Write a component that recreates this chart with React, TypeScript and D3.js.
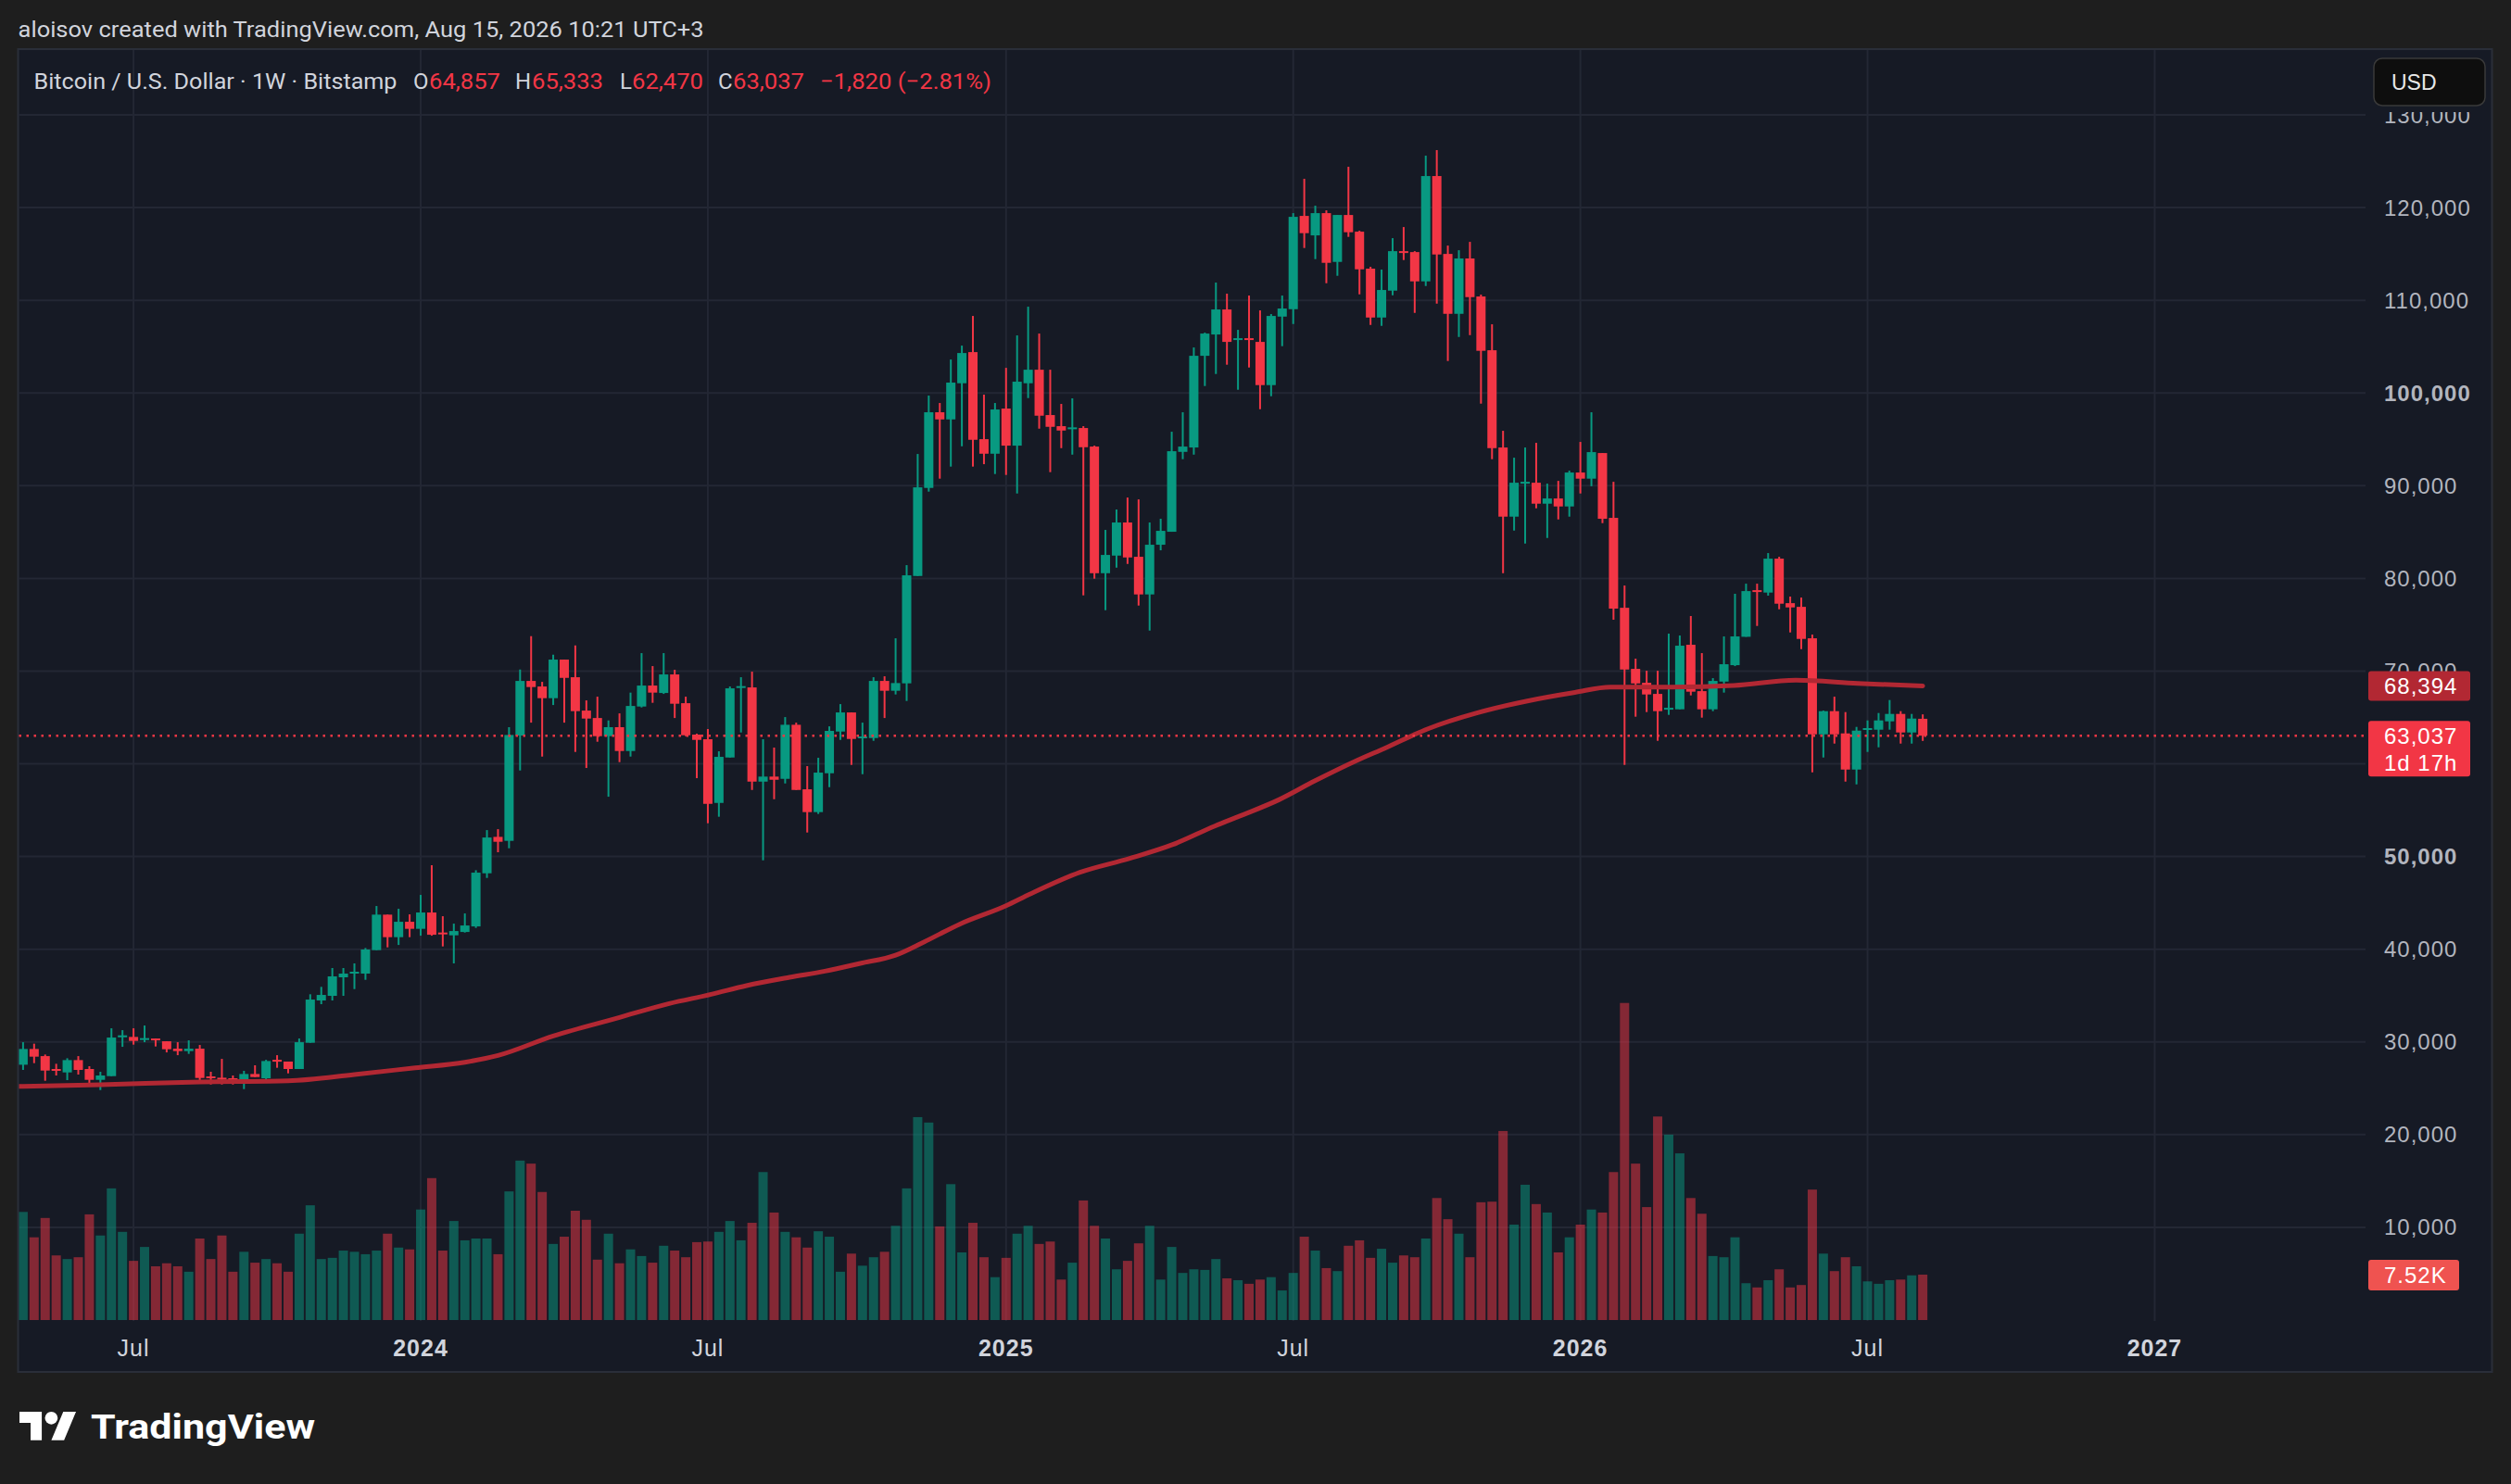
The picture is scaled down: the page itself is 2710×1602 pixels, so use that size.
import * as d3 from "d3";

// Bitstamp BTC/USD weekly bars, first bar = week of Mon 24 Apr 2023
const FIRST_BAR = Date.UTC(2023, 3, 24);
const WEEK_MS = 7 * 24 * 3600 * 1000;

const OPEN = [
  27540, 29240, 28470, 27080, 26710, 28040, 27080, 25910, 26310, 30500,
  30540, 30210, 30370, 30070, 29270, 29010, 29270, 26280, 26140, 26080,
  25810, 26540, 26080, 28070, 27880, 27080, 29910, 34470, 34970, 36970,
  37400, 37370, 39900, 43730, 41300, 42960, 42200, 43960, 41800, 41500,
  41860, 42460, 48190, 52120, 51690, 63050, 68940, 68340, 67080, 71240,
  69340, 65740, 64940, 62980, 63950, 61380, 66180, 68440, 67640, 69640,
  66540, 63150, 62650, 55780, 60680, 68210, 68240, 58080, 58620, 58380,
  64210, 57250, 54790, 58980, 63480, 65540, 62780, 62780, 68940, 67880,
  68680, 80260, 89760, 97920, 97150, 101050, 104410, 95020, 93450, 98320,
  94320, 101050, 102510, 97620, 96420, 96150, 96220, 94220, 80560, 82460,
  86030, 82330, 78270, 83630, 85030, 93650, 94120, 104010, 106310, 109010,
  105780, 105910, 105510, 100850, 108240, 109040, 119100, 117000, 119400, 114140,
  119200, 117400, 113410, 108140, 111040, 115300, 115200, 112040, 123400, 115000,
  108540, 114510, 110410, 104610, 94120, 86660, 90290, 90320, 88060, 88620,
  87760, 91420, 90760, 93520, 86530, 76830, 70240, 68740, 67540, 65880,
  65880, 72840, 67840, 65880, 68870, 70640, 73700, 78730, 78470, 82130,
  77330, 76930, 73540, 63180, 65680, 63280, 59380, 63710, 63680, 64580,
  65380, 63380, 64857,
];
const HIGH = [
  29970, 29810, 28640, 27640, 28240, 28470, 27380, 26780, 31470, 31270,
  31470, 31770, 30370, 30070, 29970, 30170, 29670, 26780, 28170, 26380,
  26880, 27480, 28070, 28570, 27880, 30370, 35140, 35940, 37970, 37970,
  38470, 40130, 44660, 43730, 44360, 43760, 45860, 49060, 43560, 42760,
  43860, 48520, 52850, 52950, 63950, 70170, 73770, 68840, 71770, 71240,
  72770, 66840, 67240, 64680, 65440, 67680, 71940, 70540, 71940, 70140,
  67240, 63250, 63750, 61350, 68340, 69340, 69940, 62650, 61750, 65040,
  64440, 59750, 60650, 64040, 66440, 65540, 64440, 69340, 69440, 73540,
  81430, 93420, 99720, 98920, 103610, 105110, 108310, 99820, 98920, 102710,
  106210, 109310, 106410, 102510, 98820, 99420, 96420, 94320, 85230, 87430,
  88720, 88520, 86030, 86430, 95820, 97920, 104910, 106510, 111910, 110710,
  106810, 110510, 108910, 108510, 110510, 119400, 123100, 120200, 119700, 119200,
  124400, 117500, 113610, 113310, 116700, 117900, 115300, 125600, 126200, 115900,
  115400, 116300, 110610, 107410, 95920, 93020, 94120, 94620, 90220, 90520,
  91620, 94720, 97920, 93520, 90420, 79230, 71340, 70040, 70040, 74040,
  73840, 75940, 71940, 69240, 73740, 78340, 79430, 79430, 82730, 82330,
  78040, 77930, 73940, 65740, 67240, 65580, 63980, 64680, 65480, 66880,
  65680, 65380, 65333,
];
const LOW = [
  26980, 27710, 25810, 26380, 25880, 26480, 25380, 24810, 26310, 29470,
  29710, 29970, 29510, 28870, 28570, 28710, 25610, 25410, 25410, 25410,
  24910, 26210, 25980, 27210, 26610, 27080, 29910, 34070, 34470, 34970,
  35700, 36700, 39900, 40200, 40460, 41300, 41460, 41460, 40300, 38470,
  41800, 42300, 47690, 50460, 50890, 59280, 64440, 60780, 66340, 64440,
  61280, 59550, 62380, 56450, 60180, 60780, 66080, 66580, 67540, 64940,
  62980, 58450, 53590, 54290, 60680, 63380, 57180, 49590, 56180, 57880,
  57180, 52590, 54590, 57480, 62580, 59880, 58880, 62480, 64940, 67480,
  66780, 80260, 89360, 90760, 92060, 94250, 92060, 92320, 91260, 91160,
  89160, 99450, 96150, 91460, 94050, 93350, 78170, 79970, 76570, 81160,
  81560, 77070, 74370, 83030, 85030, 92860, 93350, 100750, 102050, 103050,
  100350, 102750, 98250, 99650, 105050, 107440, 115640, 114440, 111840, 112640,
  116840, 110640, 107340, 107240, 110540, 114340, 108640, 111540, 109640, 103450,
  106040, 106240, 98850, 92860, 80560, 85160, 83760, 87560, 84360, 86360,
  86660, 89160, 89940, 85960, 75540, 59880, 65080, 65580, 62480, 65280,
  65880, 67380, 64980, 65680, 67680, 70540, 73700, 74870, 78140, 76670,
  74170, 72370, 59080, 60680, 62180, 58080, 57780, 61280, 61780, 63680,
  62180, 62180, 62470,
];
const CLOSE = [
  29240, 28410, 26910, 26940, 28040, 26980, 25910, 26380, 30470, 30710,
  30110, 30410, 30210, 29210, 29010, 29270, 26110, 26080, 25980, 25880,
  26540, 26210, 27940, 27940, 27080, 29970, 34570, 35070, 37070, 37370,
  37570, 39970, 43730, 41300, 42960, 42200, 43960, 41560, 41630, 41960,
  42560, 48260, 52050, 51590, 63110, 68940, 68280, 67080, 71240, 69270,
  65680, 64880, 62980, 63950, 61380, 66240, 68440, 67680, 69640, 66480,
  63080, 62580, 55680, 60750, 68140, 68380, 58080, 58620, 58280, 64210,
  57180, 54790, 59050, 63550, 65540, 62680, 62950, 68940, 67880, 68710,
  80330, 89820, 97920, 97150, 101120, 104310, 94950, 93450, 98220, 94320,
  101220, 102510, 97550, 96350, 95950, 96290, 94150, 80560, 82530, 86030,
  82260, 78270, 83630, 85130, 93720, 94220, 104010, 106410, 109010, 105510,
  105910, 105780, 100850, 108310, 109110, 119000, 117240, 119400, 114040, 119200,
  117340, 113340, 108140, 111110, 115300, 115140, 112040, 123400, 114940, 108540,
  114510, 110340, 104550, 94050, 86660, 90320, 90420, 88060, 88620, 87760,
  91420, 90760, 93620, 86430, 76740, 70170, 68670, 67480, 65680, 66040,
  72740, 67780, 65880, 68940, 70740, 73740, 78630, 78570, 82130, 77270,
  76870, 73470, 63180, 65680, 63180, 59380, 63580, 63850, 64680, 65380,
  63380, 64880, 63037,
];
// thousands of BTC
const VOLUME = [
  17.9, 13.7, 16.9, 10.7, 10.1, 10.4, 17.5, 14.0, 21.8, 14.6,
  9.8, 12.1, 8.9, 9.4, 8.9, 8.0, 13.5, 10.1, 14.0, 8.0,
  11.3, 9.5, 10.1, 9.4, 8.0, 14.3, 19.0, 10.1, 10.3, 11.5,
  11.3, 10.9, 11.5, 14.3, 12.0, 11.7, 18.3, 23.5, 11.5, 16.4,
  13.2, 13.5, 13.5, 10.9, 21.3, 26.4, 25.9, 21.2, 12.6, 13.8,
  18.1, 16.6, 10.0, 14.3, 9.4, 11.7, 10.6, 9.5, 12.3, 11.5,
  10.4, 12.9, 13.0, 14.6, 16.4, 13.2, 16.1, 24.5, 17.8, 14.6,
  13.7, 12.0, 14.7, 13.8, 8.0, 11.0, 9.0, 10.4, 11.3, 15.6,
  21.8, 33.6, 32.7, 15.5, 22.5, 11.2, 16.1, 10.4, 7.1, 10.3,
  14.3, 15.6, 12.6, 13.0, 6.7, 9.5, 19.8, 15.6, 13.5, 8.4,
  9.8, 12.7, 15.6, 6.7, 12.1, 7.8, 8.4, 8.3, 10.1, 6.9,
  6.6, 6.0, 6.7, 7.1, 4.9, 7.8, 13.8, 11.5, 8.6, 8.1,
  12.3, 13.2, 10.3, 11.8, 9.5, 10.7, 10.4, 13.5, 20.2, 16.7,
  14.3, 10.4, 19.5, 19.6, 31.3, 15.8, 22.4, 19.2, 17.8, 11.2,
  13.7, 15.8, 18.3, 17.8, 24.5, 52.5, 25.9, 18.7, 33.7, 30.7,
  27.6, 20.2, 17.6, 10.6, 10.4, 13.7, 6.1, 5.4, 6.6, 8.4,
  5.4, 5.8, 21.6, 11.0, 8.1, 10.4, 8.9, 6.4, 6.0, 6.6,
  6.7, 7.4, 7.52,
];

// moving average at these bar positions
const MA_BAR = [
  -1, 0, 7, 16, 24, 30, 35.5, 40, 43, 48, 54, 58.5, 62.3, 65.5, 69.4, 72.6, 75.8,
  79, 81.6, 84.8, 89, 91.2, 95.7, 100.2, 104.1, 107.9, 110.5, 113.7, 116.9,
  120.8, 123.3, 127.2, 131.7, 136.2, 140.5, 143.7, 149.3, 154.9, 160.5, 166.1, 172,
];
const MA_VALUE = [
  25190, 25210, 25380, 25680, 25810, 26480, 27210, 27810, 28540, 30640, 32640, 34140,
  35130, 36070, 36970, 37630, 38470, 39360, 40800, 42700, 44690, 45960, 48290,
  49790, 51290, 53290, 54520, 56120, 58120, 60380, 61680, 63780, 65510, 66780,
  67700, 68270, 68270, 68440, 69010, 68670, 68394,
];

const PRICE_TICKS = [10000, 20000, 30000, 40000, 50000, 60000, 70000, 80000, 90000, 100000, 110000, 120000, 130000];
const BOLD_PRICE = [50000, 100000];
const TIME_TICKS = [
  { date: Date.UTC(2023, 6, 3), label: "Jul", bold: false },
  { date: Date.UTC(2024, 0, 1), label: "2024", bold: true },
  { date: Date.UTC(2024, 6, 1), label: "Jul", bold: false },
  { date: Date.UTC(2025, 0, 6), label: "2025", bold: true },
  { date: Date.UTC(2025, 6, 7), label: "Jul", bold: false },
  { date: Date.UTC(2026, 0, 5), label: "2026", bold: true },
  { date: Date.UTC(2026, 6, 6), label: "Jul", bold: false },
  { date: Date.UTC(2027, 0, 4), label: "2027", bold: true },
];

const W = 2710, H = 1602;
const UP = "#089981", DOWN = "#f23645";
const GRID = "#232734";
const FONT = "Roboto, 'Noto Sans', sans-serif";
const AXIS_FONT = "'Liberation Sans', Arial, sans-serif";

const fmt = d3.format(",");

export default function App() {
  const nBars = CLOSE.length;
  const barDate = (i: number) => new Date(FIRST_BAR + i * WEEK_MS);

  const x = d3.scaleUtc().domain([barDate(0), barDate(nBars - 1)]).range([24.9, 24.9 + (nBars - 1) * 11.92]);
  const y = d3.scaleLinear().domain([0, 130000]).range([1425, 124]);
  const yv = d3.scaleLinear().domain([0, 55]).range([1425, 1066.4]);

  const plotL = 20.5, plotR = 2553, axisX = 2573;
  const bw = 10;

  const maLine = d3.line<number>()
    .x((_, k) => x(new Date(FIRST_BAR + MA_BAR[k] * WEEK_MS)))
    .y(v => y(v))
    .curve(d3.curveMonotoneX)(MA_VALUE) ?? "";

  const last = nBars - 1;
  const lastClose = CLOSE[last];
  const change = lastClose - OPEN[last];
  const maLast = MA_VALUE[MA_VALUE.length - 1];
  const legendVals = [
    { k: "O", v: OPEN[last], kx: 446, vx: 463 },
    { k: "H", v: HIGH[last], kx: 556, vx: 574 },
    { k: "L", v: LOW[last], kx: 669, vx: 682 },
    { k: "C", v: lastClose, kx: 775, vx: 791 },
  ];

  return (
    <div style={{ position: "absolute", left: 0, top: 0, width: W, height: H }}>
      <svg width={W} height={H} style={{ display: "block" }}>
        <defs>
          <clipPath id="plot"><rect x={plotL} y={54} width={2535} height={1372} /></clipPath>
          <clipPath id="paxis"><rect x={2554} y={121} width={135} height={1300} /></clipPath>
        </defs>
        <rect width={W} height={H} fill="#1e1e1e" />
        <text x={19.6} y={40} fill="#d1d4dc" fontFamily={FONT} fontSize={24} textLength={740} lengthAdjust="spacingAndGlyphs">
          aloisov created with TradingView.com, Aug 15, 2026 10:21 UTC+3
        </text>

        {/* chart panel */}
        <rect x={19.5} y={53} width={2670} height={1428} fill="#161a25" stroke="#2a2e39" strokeWidth={2} />

        {/* grid */}
        {PRICE_TICKS.map(v => (
          <line key={"h" + v} x1={plotL} x2={plotR} y1={y(v)} y2={y(v)} stroke={GRID} strokeWidth={2} />
        ))}
        {TIME_TICKS.map(t => (
          <line key={"v" + t.date} x1={x(new Date(t.date))} x2={x(new Date(t.date))} y1={54} y2={1426} stroke={GRID} strokeWidth={2} />
        ))}

        <g clipPath="url(#plot)">
          {/* volume */}
          {VOLUME.map((v, i) => (
            <rect key={"vol" + i} x={x(barDate(i)) - bw / 2} y={yv(v)} width={bw} height={yv(0) - yv(v)}
              fill={CLOSE[i] >= OPEN[i] ? UP : DOWN} fillOpacity={0.5} />
          ))}

          {/* candles */}
          {CLOSE.map((c, i) => {
            const o = OPEN[i];
            const cx = x(barDate(i));
            const col = c >= o ? UP : DOWN;
            const top = y(Math.max(o, c));
            const h = Math.max(2, Math.abs(y(o) - y(c)));
            return (
              <g key={"c" + i} fill={col}>
                <rect x={cx - 1} y={y(HIGH[i])} width={2} height={y(LOW[i]) - y(HIGH[i])} />
                <rect x={cx - bw / 2} y={top} width={bw} height={h} />
              </g>
            );
          })}

          {/* moving average */}
          <path d={maLine} fill="none" stroke="#b22833" strokeWidth={5} strokeLinecap="round" />
        </g>

        {/* last price line */}
        <line x1={plotL} x2={2556} y1={y(lastClose)} y2={y(lastClose)} stroke={DOWN} strokeWidth={2.5} strokeDasharray="2.5 5.5" />

        {/* header legend */}
        <g fontFamily={FONT} fontSize={24} dominantBaseline="central">
          <text x={36.5} y={88} fill="#d1d4dc" textLength={392} lengthAdjust="spacingAndGlyphs">Bitcoin / U.S. Dollar · 1W · Bitstamp</text>
          {legendVals.map(d => (
            <g key={d.k}>
              <text x={d.kx} y={88} fill="#d1d4dc">{d.k}</text>
              <text x={d.vx} y={88} fill={DOWN} textLength={77} lengthAdjust="spacingAndGlyphs">{fmt(d.v)}</text>
            </g>
          ))}
          <text x={885} y={88} fill={DOWN} textLength={185} lengthAdjust="spacingAndGlyphs">
            {"\u2212" + fmt(Math.abs(change)) + " (\u2212" + (Math.abs(change) / OPEN[last] * 100).toFixed(2) + "%)"}
          </text>
        </g>

        {/* price axis */}
        <g fontFamily={AXIS_FONT} fontSize={24} fill="#b2b5be" dominantBaseline="central" clipPath="url(#paxis)">
          {PRICE_TICKS.map(v => (
            <text key={"pt" + v} x={axisX} y={y(v)} fontWeight={BOLD_PRICE.includes(v) ? 700 : 400} letterSpacing={1}>
              {fmt(v)}
            </text>
          ))}
        </g>

        {/* USD button */}
        <rect x={2562} y={63} width={120} height={51} rx={9} fill="#0e0e0e" stroke="#3a3a3a" strokeWidth={1.5} />
        <text x={2581} y={89} fill="#e8e8e8" fontFamily={AXIS_FONT} fontSize={23} dominantBaseline="central">USD</text>

        {/* axis value labels */}
        <g fontFamily={AXIS_FONT} fontSize={24} fill="#ffffff" dominantBaseline="central" letterSpacing={1}>
          <rect x={2556} y={y(maLast) - 16} width={110} height={32} rx={3} fill="#b22833" />
          <text x={axisX} y={y(maLast)}>{fmt(maLast)}</text>
          <rect x={2556} y={y(lastClose) - 16} width={110} height={60} rx={3} fill={DOWN} />
          <text x={axisX} y={y(lastClose)}>{fmt(lastClose)}</text>
          <text x={axisX} y={y(lastClose) + 29}>1d 17h</text>
          <rect x={2556} y={yv(VOLUME[last]) - 16} width={98} height={33} rx={3} fill="#ef5350" />
          <text x={axisX} y={yv(VOLUME[last]) + 0.5}>{VOLUME[last].toFixed(2) + "K"}</text>
        </g>

        {/* time axis */}
        <g fontFamily={AXIS_FONT} fontSize={25} fill="#d1d4dc" textAnchor="middle" dominantBaseline="central">
          {TIME_TICKS.map(t => (
            <text key={"tt" + t.date} x={x(new Date(t.date))} y={1455} fontWeight={t.bold ? 700 : 400} letterSpacing={1}>
              {t.label}
            </text>
          ))}
        </g>

        {/* TradingView logo */}
        <g transform="translate(21,1517) scale(1.72)" fill="#ffffff">
          <path d="M14 22H7V11H0V4h14v18zM28 22h-8l7.5-18h8L28 22z" />
          <circle cx={20} cy={8} r={4} />
        </g>
        <text x={98} y={1541} fill="#ffffff" fontFamily={FONT} fontWeight={700} fontSize={36}
          dominantBaseline="central" textLength={242} lengthAdjust="spacingAndGlyphs">TradingView</text>
      </svg>
    </div>
  );
}
